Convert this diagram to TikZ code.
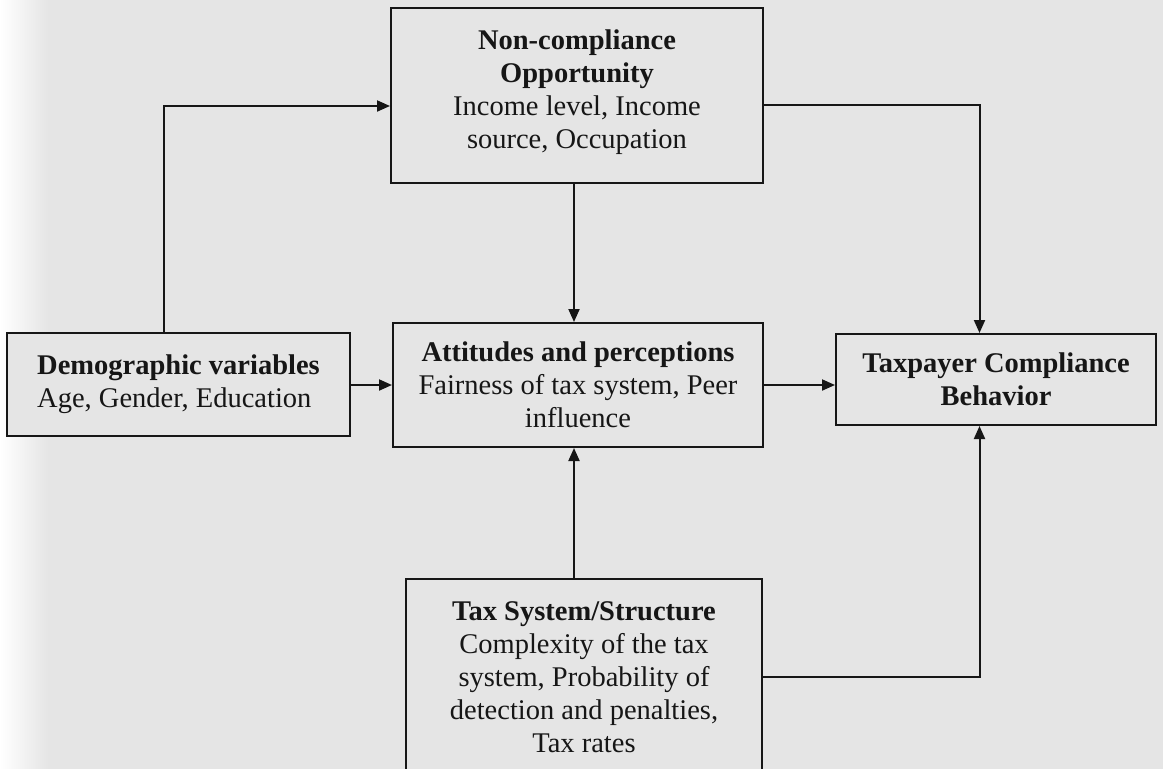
\documentclass[tikz,border=0pt]{standalone}
\usepackage{fontspec}
\setmainfont{Liberation Serif}
\usetikzlibrary{positioning, arrows.meta, calc}

\definecolor{paper}{RGB}{229,229,229}
\definecolor{ink}{RGB}{22,22,22}

\begin{document}
\begin{tikzpicture}[
    x=1pt, y=-1pt,
    >={Triangle[length=13pt, width=11pt]},
    font=\fontsize{28.5}{33}\selectfont,
    box/.style={
        draw=ink, line width=2pt, fill=paper,
        inner sep=0pt, align=center, text=ink,
    },
    arrow/.style={->, line width=2pt, draw=ink},
]

% ============ PAGE ============
\useasboundingbox[fill=paper] (0,0) rectangle (1163,769);
\fill[left color=white, right color=paper] (0,0) rectangle (48,769);

% ============ NODES ============

% top row -- text sits a little high in its box
\node[box, minimum width=372pt, minimum height=175pt] (opportunity) at (577, 95.5)
    {\textbf{Non-compliance}\\ \textbf{Opportunity}\\ Income level, Income\\ source, Occupation\\[-21pt]\mbox{}};

% middle row (y=385)
\node[box, align=left, minimum width=343pt, minimum height=103pt] (demographic) at (178.5, 384.5)
    {\textbf{Demographic variables}\\ Age, Gender, Education};
\node[box, minimum width=370pt, minimum height=124pt] (attitudes) at (578, 385)
    {\textbf{Attitudes and perceptions}\\ Fairness of tax system, Peer\\ influence};
\node[box, minimum width=320pt, minimum height=91pt] (behavior) at (996, 379.5)
    {\textbf{Taxpayer Compliance}\\ \textbf{Behavior}};

% bottom row -- runs off the page
\node[box, minimum width=356pt, minimum height=196pt] (taxsystem) at (584, 677)
    {\textbf{Tax System/Structure}\\ Complexity of the tax\\ system, Probability of\\ detection and penalties,\\ Tax rates};

% vertical guide lines for the connectors
\coordinate (demoup) at (164, 0);
\coordinate (spine)  at (574, 0);
\coordinate (rail)   at (979.5, 0);

% ============ ARROWS ============

% Demographic -> Opportunity (up and across)
\draw[arrow] (demographic.north -| demoup) |- ($(opportunity.west)+(0,10.5)$);

% Opportunity -> Attitudes, Tax system -> Attitudes
\draw[arrow] (opportunity.south -| spine) -- (attitudes.north -| spine);
\draw[arrow] (taxsystem.north -| spine)   -- (attitudes.south -| spine);

% middle row, left to right
\draw[arrow] (demographic.east |- attitudes.west) -- (attitudes.west);
\draw[arrow] (attitudes.east) -- (behavior.west |- attitudes.east);

% Opportunity / Tax system -> Behavior along the right rail
\draw[arrow] ($(opportunity.east)+(0,9.5)$) -| (behavior.north -| rail);
\draw[arrow] (taxsystem.east) -| (behavior.south -| rail);

\end{tikzpicture}
\end{document}
